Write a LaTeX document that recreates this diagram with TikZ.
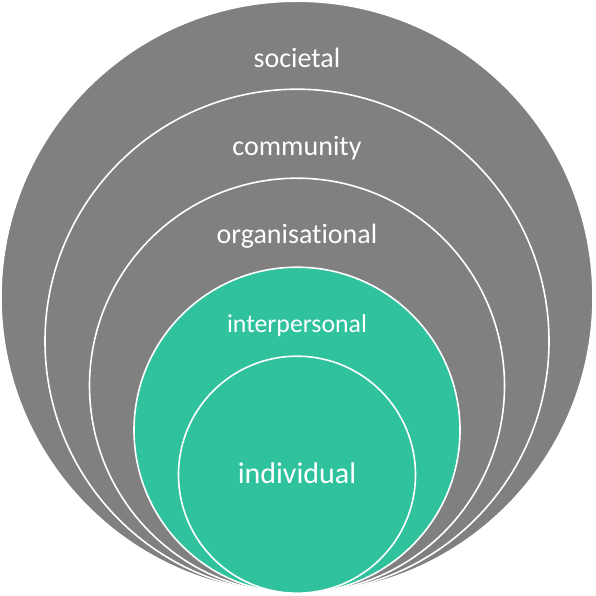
\documentclass[tikz,border=0pt]{standalone}
\usepackage{fontspec}
\setmainfont{Carlito}[Ligatures=NoCommon]
\definecolor{ring}{RGB}{128, 128, 128}
\definecolor{core}{RGB}{47, 194, 157}
\usetikzlibrary{positioning}

\begin{document}
\begin{tikzpicture}[
            x=1pt, y=1pt,
            level/.style={circle, draw=white, line width=1.6pt, fill=ring, anchor=south, inner sep=0pt},
            inner/.style={level, fill=core},
            lbl/.style={text=white, anchor=base, inner sep=0pt, font=\fontsize{28}{34}\selectfont}
        ]
            \useasboundingbox (0,0) rectangle (596,596);
            \coordinate (base) at (297,2);

            \node[level, minimum size=592pt] (soc) at (base) {};
            \node[level, minimum size=504pt] (com) at (base) {};
            \node[level, minimum size=415pt] (org) at (base) {};
            \node[inner, minimum size=326pt] (inter) at (base) {};
            \node[inner, minimum size=237pt] (indiv) at (base) {};

            \node[lbl] (tsoc) at (297,528) {societal};
            \node[lbl] (tcom) at (297,440) {community};
            \node[lbl] (torg) at (297,352) {organisational};
            \node[lbl, font=\fontsize{25.8}{31}\selectfont] (tinter) at (297,263) {interpersonal};
            \node[lbl, font=\fontsize{30}{36}\selectfont] (tindiv) at (297,112) {individual};
        \end{tikzpicture}
\end{document}
